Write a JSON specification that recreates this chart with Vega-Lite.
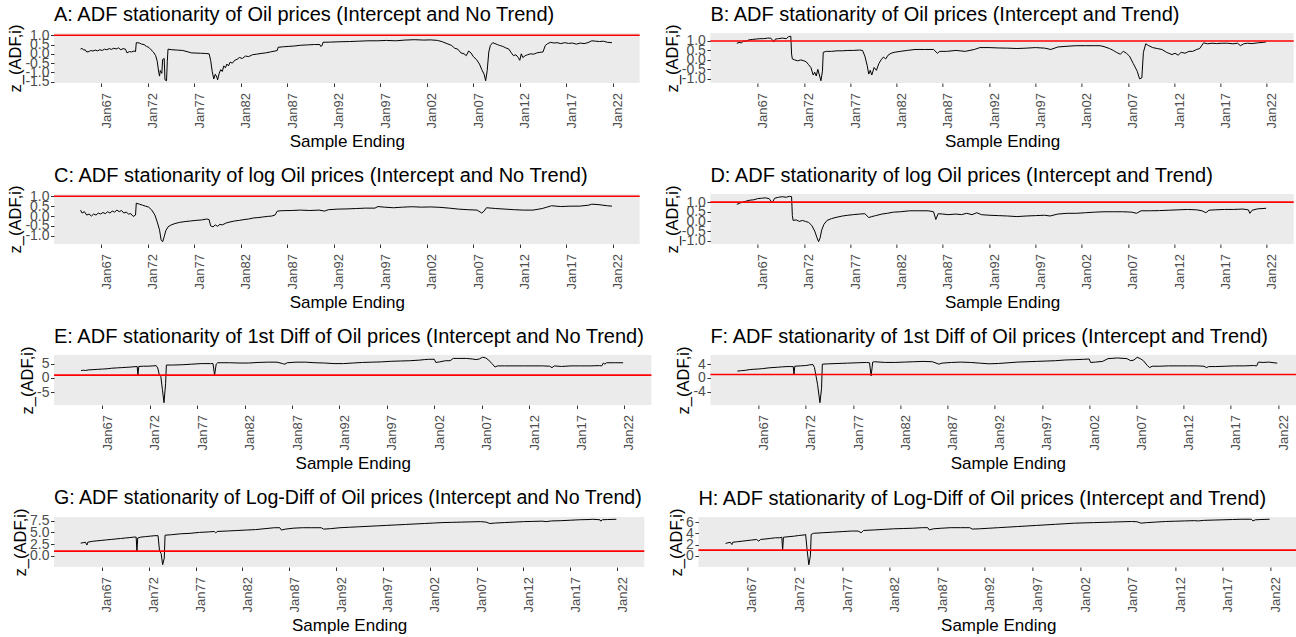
{
"$schema": "https://vega.github.io/schema/vega-lite/v6.json",
"padding": {"left": 7, "top": 5, "right": 0, "bottom": 0},
"config": {
 "font": "Liberation Sans",
 "view": {"fill": "#EBEBEB", "stroke": null},
 "axis": {"grid": false, "domain": false, "tickColor": "#333333", "tickSize": 3.5, "labelColor": "#4D4D4D", "labelFontSize": 14, "titleFontSize": 16.5, "titleFontWeight": "normal", "titleColor": "#000000", "labelPadding": 1.5, "titlePadding": 1, "labelOverlap": false, "labelFlush": false},
 "axisX": {"labelAngle": 270, "labelFontSize": 13, "labelPadding": 6, "labelOffset": 5, "titlePadding": 6, "titleFontSize": 17},
 "title": {"fontSize": 20, "fontWeight": "normal", "anchor": "start", "frame": "group", "color": "#000000", "offset": -1},
 "line": {"color": "#000000", "strokeWidth": 1}
},
"datasets": {
"A": [{"d":"1964-10","v":0.25},{"d":"1964-12","v":0.30},{"d":"1965-02","v":0.20},{"d":"1965-04","v":0.22},{"d":"1965-06","v":0.10},{"d":"1965-09","v":0.12},{"d":"1965-11","v":0.18},{"d":"1966-02","v":0.15},{"d":"1966-05","v":0.20},{"d":"1966-08","v":0.16},{"d":"1966-11","v":0.22},{"d":"1967-02","v":0.18},{"d":"1967-05","v":0.25},{"d":"1967-08","v":0.22},{"d":"1967-11","v":0.28},{"d":"1968-02","v":0.24},{"d":"1968-05","v":0.30},{"d":"1968-08","v":0.26},{"d":"1968-11","v":0.32},{"d":"1969-02","v":0.22},{"d":"1969-05","v":0.28},{"d":"1969-08","v":0.25},{"d":"1969-10","v":0.05},{"d":"1970-01","v":0.12},{"d":"1970-04","v":0.10},{"d":"1970-07","v":0.15},{"d":"1970-09","v":0.12},{"d":"1970-10","v":0.60},{"d":"1971-02","v":0.58},{"d":"1971-05","v":0.52},{"d":"1971-08","v":0.50},{"d":"1971-11","v":0.40},{"d":"1972-02","v":0.35},{"d":"1972-05","v":0.22},{"d":"1972-08","v":0.10},{"d":"1972-11","v":-0.10},{"d":"1973-01","v":-0.40},{"d":"1973-03","v":-1.00},{"d":"1973-04","v":-1.20},{"d":"1973-05","v":-0.90},{"d":"1973-07","v":-1.05},{"d":"1973-08","v":-0.30},{"d":"1973-10","v":-0.25},{"d":"1973-11","v":-1.40},{"d":"1974-01","v":-1.45},{"d":"1974-02","v":-0.40},{"d":"1974-03","v":0.25},{"d":"1974-08","v":0.22},{"d":"1975-03","v":0.20},{"d":"1975-10","v":0.18},{"d":"1976-05","v":0.10},{"d":"1976-09","v":0.05},{"d":"1977-03","v":0.04},{"d":"1977-09","v":0.03},{"d":"1978-03","v":0.02},{"d":"1978-08","v":0.0},{"d":"1978-10","v":-0.35},{"d":"1978-12","v":-0.95},{"d":"1979-02","v":-1.35},{"d":"1979-04","v":-1.10},{"d":"1979-06","v":-1.25},{"d":"1979-07","v":-1.40},{"d":"1979-09","v":-1.05},{"d":"1979-11","v":-0.85},{"d":"1980-01","v":-0.95},{"d":"1980-03","v":-0.65},{"d":"1980-05","v":-0.75},{"d":"1980-07","v":-0.55},{"d":"1980-09","v":-0.65},{"d":"1980-11","v":-0.45},{"d":"1981-02","v":-0.50},{"d":"1981-05","v":-0.35},{"d":"1981-08","v":-0.30},{"d":"1981-11","v":-0.20},{"d":"1982-03","v":-0.25},{"d":"1982-07","v":-0.12},{"d":"1982-11","v":-0.15},{"d":"1983-04","v":-0.05},{"d":"1983-09","v":-0.02},{"d":"1984-03","v":0.02},{"d":"1984-09","v":0.05},{"d":"1985-03","v":0.10},{"d":"1985-09","v":0.15},{"d":"1985-12","v":0.18},{"d":"1986-01","v":0.35},{"d":"1986-08","v":0.38},{"d":"1987-03","v":0.40},{"d":"1987-10","v":0.42},{"d":"1988-06","v":0.46},{"d":"1989-03","v":0.48},{"d":"1989-12","v":0.50},{"d":"1990-07","v":0.50},{"d":"1990-08","v":0.40},{"d":"1990-10","v":0.45},{"d":"1990-11","v":0.62},{"d":"1991-09","v":0.63},{"d":"1992-09","v":0.65},{"d":"1993-09","v":0.66},{"d":"1994-09","v":0.68},{"d":"1995-09","v":0.70},{"d":"1996-09","v":0.70},{"d":"1997-09","v":0.72},{"d":"1998-09","v":0.70},{"d":"1999-09","v":0.74},{"d":"2000-09","v":0.76},{"d":"2001-09","v":0.74},{"d":"2002-06","v":0.75},{"d":"2003-03","v":0.72},{"d":"2003-09","v":0.65},{"d":"2004-03","v":0.55},{"d":"2004-09","v":0.45},{"d":"2005-01","v":0.30},{"d":"2005-05","v":0.25},{"d":"2005-09","v":0.05},{"d":"2006-01","v":0.0},{"d":"2006-04","v":-0.10},{"d":"2006-07","v":0.15},{"d":"2006-10","v":0.05},{"d":"2007-01","v":-0.15},{"d":"2007-05","v":-0.30},{"d":"2007-09","v":-0.55},{"d":"2007-12","v":-0.85},{"d":"2008-03","v":-1.10},{"d":"2008-05","v":-1.45},{"d":"2008-07","v":-0.90},{"d":"2008-09","v":0.10},{"d":"2008-11","v":0.45},{"d":"2009-02","v":0.60},{"d":"2009-05","v":0.55},{"d":"2009-08","v":0.50},{"d":"2009-11","v":0.45},{"d":"2010-03","v":0.40},{"d":"2010-07","v":0.32},{"d":"2010-11","v":0.25},{"d":"2011-02","v":0.05},{"d":"2011-05","v":-0.10},{"d":"2011-08","v":-0.05},{"d":"2011-11","v":-0.20},{"d":"2012-01","v":-0.35},{"d":"2012-03","v":0.0},{"d":"2012-05","v":-0.20},{"d":"2012-08","v":-0.10},{"d":"2012-11","v":-0.05},{"d":"2013-03","v":0.0},{"d":"2013-07","v":-0.02},{"d":"2013-11","v":0.05},{"d":"2014-03","v":0.08},{"d":"2014-07","v":0.10},{"d":"2014-10","v":0.45},{"d":"2015-01","v":0.55},{"d":"2015-05","v":0.62},{"d":"2015-09","v":0.58},{"d":"2016-01","v":0.60},{"d":"2016-06","v":0.55},{"d":"2016-11","v":0.60},{"d":"2017-04","v":0.56},{"d":"2017-09","v":0.58},{"d":"2018-02","v":0.52},{"d":"2018-07","v":0.58},{"d":"2018-12","v":0.55},{"d":"2019-05","v":0.60},{"d":"2019-10","v":0.70},{"d":"2020-03","v":0.68},{"d":"2020-08","v":0.66},{"d":"2021-01","v":0.68},{"d":"2021-06","v":0.62},{"d":"2021-12","v":0.60}],
"B": [{"d":"1964-10","v":0.88},{"d":"1965-01","v":0.92},{"d":"1965-04","v":0.90},{"d":"1965-07","v":1.00},{"d":"1965-10","v":0.98},{"d":"1966-01","v":1.05},{"d":"1966-06","v":1.08},{"d":"1966-11","v":1.10},{"d":"1967-04","v":1.12},{"d":"1967-09","v":1.12},{"d":"1968-02","v":1.15},{"d":"1968-06","v":1.15},{"d":"1968-09","v":1.00},{"d":"1968-10","v":0.95},{"d":"1968-12","v":1.10},{"d":"1969-04","v":1.12},{"d":"1969-09","v":1.15},{"d":"1970-02","v":1.12},{"d":"1970-05","v":1.22},{"d":"1970-08","v":1.25},{"d":"1970-09","v":0.30},{"d":"1970-10","v":0.05},{"d":"1971-01","v":0.0},{"d":"1971-05","v":-0.05},{"d":"1971-09","v":0.0},{"d":"1972-01","v":-0.05},{"d":"1972-04","v":-0.10},{"d":"1972-07","v":-0.25},{"d":"1972-10","v":-0.40},{"d":"1973-01","v":-0.80},{"d":"1973-03","v":-0.65},{"d":"1973-05","v":-0.85},{"d":"1973-07","v":-0.50},{"d":"1973-09","v":-0.80},{"d":"1973-11","v":-1.10},{"d":"1974-01","v":-0.60},{"d":"1974-02","v":0.40},{"d":"1974-06","v":0.45},{"d":"1975-01","v":0.45},{"d":"1975-08","v":0.48},{"d":"1976-03","v":0.48},{"d":"1976-10","v":0.50},{"d":"1977-05","v":0.50},{"d":"1978-01","v":0.52},{"d":"1978-05","v":0.50},{"d":"1978-08","v":0.20},{"d":"1978-11","v":-0.30},{"d":"1979-01","v":-0.75},{"d":"1979-03","v":-0.55},{"d":"1979-05","v":-0.80},{"d":"1979-08","v":-0.40},{"d":"1979-11","v":-0.55},{"d":"1980-02","v":-0.20},{"d":"1980-05","v":0.0},{"d":"1980-08","v":0.15},{"d":"1980-11","v":0.05},{"d":"1981-02","v":0.25},{"d":"1981-06","v":0.35},{"d":"1981-10","v":0.40},{"d":"1982-06","v":0.45},{"d":"1983-03","v":0.50},{"d":"1984-01","v":0.55},{"d":"1985-01","v":0.55},{"d":"1986-01","v":0.55},{"d":"1986-06","v":0.35},{"d":"1986-09","v":0.45},{"d":"1987-06","v":0.45},{"d":"1988-06","v":0.50},{"d":"1989-06","v":0.45},{"d":"1990-06","v":0.55},{"d":"1991-01","v":0.65},{"d":"1992-01","v":0.65},{"d":"1993-01","v":0.63},{"d":"1994-01","v":0.62},{"d":"1995-01","v":0.60},{"d":"1996-01","v":0.62},{"d":"1997-01","v":0.65},{"d":"1998-01","v":0.62},{"d":"1998-09","v":0.55},{"d":"1999-06","v":0.68},{"d":"2000-06","v":0.72},{"d":"2001-06","v":0.75},{"d":"2002-06","v":0.75},{"d":"2003-06","v":0.75},{"d":"2004-01","v":0.75},{"d":"2004-06","v":0.70},{"d":"2005-01","v":0.60},{"d":"2005-06","v":0.50},{"d":"2005-10","v":0.40},{"d":"2006-03","v":0.30},{"d":"2006-07","v":0.45},{"d":"2006-11","v":0.35},{"d":"2007-03","v":0.20},{"d":"2007-08","v":-0.20},{"d":"2008-01","v":-0.60},{"d":"2008-04","v":-1.00},{"d":"2008-07","v":-0.95},{"d":"2008-09","v":0.40},{"d":"2008-12","v":0.85},{"d":"2009-04","v":0.75},{"d":"2009-09","v":0.65},{"d":"2010-03","v":0.60},{"d":"2010-09","v":0.55},{"d":"2011-03","v":0.40},{"d":"2011-06","v":0.35},{"d":"2011-10","v":0.28},{"d":"2012-02","v":0.35},{"d":"2012-06","v":0.25},{"d":"2012-10","v":0.40},{"d":"2013-03","v":0.35},{"d":"2013-08","v":0.45},{"d":"2014-01","v":0.45},{"d":"2014-06","v":0.55},{"d":"2014-10","v":0.60},{"d":"2015-03","v":0.90},{"d":"2015-08","v":0.85},{"d":"2016-02","v":0.88},{"d":"2016-08","v":0.86},{"d":"2017-03","v":0.88},{"d":"2017-10","v":0.88},{"d":"2018-05","v":0.85},{"d":"2018-11","v":0.88},{"d":"2019-03","v":0.75},{"d":"2019-07","v":0.85},{"d":"2019-12","v":0.88},{"d":"2020-06","v":0.86},{"d":"2021-01","v":0.90},{"d":"2021-07","v":0.92},{"d":"2021-12","v":0.95}],
"C": [{"d":"1964-10","v":0.30},{"d":"1964-12","v":0.15},{"d":"1965-03","v":0.22},{"d":"1965-06","v":0.05},{"d":"1965-09","v":0.10},{"d":"1965-12","v":0.0},{"d":"1966-03","v":0.10},{"d":"1966-06","v":0.05},{"d":"1966-09","v":0.15},{"d":"1966-12","v":0.10},{"d":"1967-03","v":0.18},{"d":"1967-06","v":0.12},{"d":"1967-09","v":0.22},{"d":"1967-12","v":0.15},{"d":"1968-03","v":0.25},{"d":"1968-06","v":0.20},{"d":"1968-09","v":0.30},{"d":"1968-12","v":0.22},{"d":"1969-03","v":0.28},{"d":"1969-06","v":0.15},{"d":"1969-09","v":0.20},{"d":"1969-12","v":0.10},{"d":"1970-03","v":0.12},{"d":"1970-06","v":-0.02},{"d":"1970-09","v":0.05},{"d":"1970-10","v":0.65},{"d":"1971-02","v":0.60},{"d":"1971-06","v":0.55},{"d":"1971-10","v":0.50},{"d":"1972-02","v":0.45},{"d":"1972-06","v":0.30},{"d":"1972-10","v":0.05},{"d":"1973-01","v":-0.30},{"d":"1973-04","v":-0.70},{"d":"1973-06","v":-1.20},{"d":"1973-08","v":-1.30},{"d":"1973-10","v":-1.05},{"d":"1973-12","v":-0.75},{"d":"1974-03","v":-0.55},{"d":"1974-07","v":-0.45},{"d":"1974-12","v":-0.38},{"d":"1975-06","v":-0.32},{"d":"1976-01","v":-0.28},{"d":"1976-08","v":-0.25},{"d":"1977-03","v":-0.22},{"d":"1977-10","v":-0.20},{"d":"1978-05","v":-0.15},{"d":"1978-08","v":-0.18},{"d":"1978-10","v":-0.50},{"d":"1979-01","v":-0.55},{"d":"1979-04","v":-0.45},{"d":"1979-07","v":-0.52},{"d":"1979-10","v":-0.42},{"d":"1980-01","v":-0.45},{"d":"1980-06","v":-0.35},{"d":"1980-11","v":-0.30},{"d":"1981-05","v":-0.25},{"d":"1981-11","v":-0.22},{"d":"1982-05","v":-0.18},{"d":"1982-11","v":-0.15},{"d":"1983-05","v":-0.10},{"d":"1983-11","v":-0.08},{"d":"1984-05","v":-0.05},{"d":"1984-11","v":-0.02},{"d":"1985-05","v":0.0},{"d":"1985-09","v":0.05},{"d":"1985-12","v":0.25},{"d":"1986-06","v":0.27},{"d":"1987-06","v":0.28},{"d":"1988-06","v":0.30},{"d":"1989-06","v":0.28},{"d":"1990-06","v":0.30},{"d":"1991-01","v":0.25},{"d":"1991-06","v":0.32},{"d":"1992-06","v":0.35},{"d":"1993-06","v":0.36},{"d":"1994-06","v":0.38},{"d":"1995-06","v":0.40},{"d":"1996-06","v":0.40},{"d":"1996-10","v":0.48},{"d":"1997-06","v":0.45},{"d":"1998-06","v":0.42},{"d":"1999-06","v":0.45},{"d":"2000-06","v":0.47},{"d":"2001-06","v":0.45},{"d":"2002-06","v":0.46},{"d":"2003-06","v":0.44},{"d":"2004-06","v":0.40},{"d":"2005-06","v":0.35},{"d":"2006-06","v":0.32},{"d":"2007-06","v":0.30},{"d":"2007-12","v":0.15},{"d":"2008-03","v":0.25},{"d":"2008-06","v":0.42},{"d":"2008-12","v":0.40},{"d":"2009-06","v":0.38},{"d":"2010-06","v":0.35},{"d":"2011-06","v":0.32},{"d":"2012-06","v":0.30},{"d":"2013-06","v":0.30},{"d":"2014-06","v":0.38},{"d":"2014-12","v":0.45},{"d":"2015-06","v":0.52},{"d":"2016-06","v":0.48},{"d":"2017-06","v":0.50},{"d":"2018-06","v":0.50},{"d":"2019-06","v":0.55},{"d":"2019-10","v":0.60},{"d":"2020-06","v":0.58},{"d":"2021-06","v":0.52},{"d":"2021-12","v":0.50}],
"D": [{"d":"1964-10","v":0.88},{"d":"1965-02","v":0.95},{"d":"1965-06","v":1.00},{"d":"1965-10","v":1.05},{"d":"1966-03","v":1.10},{"d":"1966-08","v":1.12},{"d":"1967-01","v":1.18},{"d":"1967-06","v":1.20},{"d":"1967-11","v":1.22},{"d":"1968-04","v":1.18},{"d":"1968-07","v":1.00},{"d":"1968-09","v":1.05},{"d":"1968-11","v":1.20},{"d":"1969-04","v":1.25},{"d":"1969-09","v":1.28},{"d":"1970-02","v":1.25},{"d":"1970-06","v":1.30},{"d":"1970-09","v":1.28},{"d":"1970-10","v":0.30},{"d":"1970-11","v":0.05},{"d":"1971-03","v":0.08},{"d":"1971-07","v":0.0},{"d":"1971-11","v":0.05},{"d":"1972-03","v":0.0},{"d":"1972-07","v":-0.05},{"d":"1972-11","v":-0.20},{"d":"1973-03","v":-0.50},{"d":"1973-06","v":-0.85},{"d":"1973-08","v":-1.05},{"d":"1973-10","v":-0.85},{"d":"1973-12","v":-0.45},{"d":"1974-03","v":-0.15},{"d":"1974-07","v":0.05},{"d":"1975-01","v":0.15},{"d":"1975-08","v":0.22},{"d":"1976-03","v":0.28},{"d":"1976-10","v":0.32},{"d":"1977-05","v":0.35},{"d":"1978-01","v":0.38},{"d":"1978-08","v":0.40},{"d":"1979-01","v":0.20},{"d":"1979-05","v":0.25},{"d":"1979-10","v":0.30},{"d":"1980-06","v":0.38},{"d":"1981-01","v":0.42},{"d":"1981-09","v":0.48},{"d":"1982-06","v":0.50},{"d":"1983-06","v":0.55},{"d":"1984-06","v":0.55},{"d":"1985-06","v":0.55},{"d":"1986-01","v":0.50},{"d":"1986-04","v":0.10},{"d":"1986-07","v":0.40},{"d":"1987-01","v":0.38},{"d":"1987-08","v":0.35},{"d":"1988-06","v":0.38},{"d":"1989-01","v":0.35},{"d":"1989-08","v":0.42},{"d":"1990-03","v":0.35},{"d":"1990-09","v":0.45},{"d":"1991-03","v":0.35},{"d":"1992-01","v":0.32},{"d":"1993-01","v":0.30},{"d":"1994-01","v":0.28},{"d":"1995-01","v":0.25},{"d":"1996-01","v":0.28},{"d":"1997-01","v":0.30},{"d":"1998-01","v":0.32},{"d":"1998-08","v":0.28},{"d":"1999-06","v":0.38},{"d":"2000-06","v":0.42},{"d":"2001-06","v":0.42},{"d":"2002-06","v":0.45},{"d":"2003-06","v":0.48},{"d":"2004-06","v":0.50},{"d":"2005-06","v":0.50},{"d":"2006-06","v":0.50},{"d":"2007-06","v":0.48},{"d":"2007-12","v":0.42},{"d":"2008-06","v":0.55},{"d":"2009-06","v":0.55},{"d":"2010-06","v":0.56},{"d":"2011-06","v":0.58},{"d":"2012-06","v":0.60},{"d":"2013-06","v":0.62},{"d":"2014-06","v":0.60},{"d":"2015-01","v":0.55},{"d":"2015-06","v":0.45},{"d":"2015-10","v":0.58},{"d":"2016-06","v":0.60},{"d":"2017-06","v":0.62},{"d":"2018-06","v":0.62},{"d":"2019-06","v":0.64},{"d":"2020-01","v":0.60},{"d":"2020-03","v":0.42},{"d":"2020-06","v":0.58},{"d":"2021-01","v":0.65},{"d":"2021-12","v":0.68}],
"E": [{"d":"1964-10","v":2.6},{"d":"1965-01","v":2.7},{"d":"1965-04","v":2.6},{"d":"1965-07","v":2.8},{"d":"1966-01","v":2.9},{"d":"1966-07","v":3.0},{"d":"1967-01","v":3.1},{"d":"1967-07","v":3.2},{"d":"1968-01","v":3.4},{"d":"1968-07","v":3.5},{"d":"1969-01","v":3.6},{"d":"1969-07","v":3.7},{"d":"1970-01","v":3.8},{"d":"1970-05","v":3.9},{"d":"1970-09","v":4.0},{"d":"1970-10","v":1.0},{"d":"1970-11","v":4.0},{"d":"1971-05","v":4.1},{"d":"1971-11","v":4.1},{"d":"1972-05","v":4.2},{"d":"1972-09","v":4.3},{"d":"1972-11","v":3.5},{"d":"1973-01","v":1.2},{"d":"1973-03","v":0.5},{"d":"1973-05","v":-4.0},{"d":"1973-07","v":-8.6},{"d":"1973-09","v":-2.0},{"d":"1973-10","v":4.5},{"d":"1974-06","v":4.5},{"d":"1975-06","v":4.6},{"d":"1976-06","v":4.8},{"d":"1977-06","v":5.0},{"d":"1978-06","v":5.0},{"d":"1978-09","v":5.0},{"d":"1978-11","v":1.0},{"d":"1979-01","v":4.8},{"d":"1979-03","v":5.3},{"d":"1980-06","v":5.3},{"d":"1981-06","v":5.2},{"d":"1982-06","v":5.2},{"d":"1983-06","v":5.4},{"d":"1984-06","v":5.5},{"d":"1985-06","v":5.5},{"d":"1986-01","v":5.0},{"d":"1986-04","v":4.8},{"d":"1986-07","v":5.3},{"d":"1987-06","v":5.5},{"d":"1988-06","v":5.5},{"d":"1989-06","v":5.3},{"d":"1990-06","v":5.2},{"d":"1991-06","v":5.0},{"d":"1992-06","v":5.0},{"d":"1993-06","v":5.2},{"d":"1994-06","v":5.4},{"d":"1995-06","v":5.5},{"d":"1996-06","v":5.6},{"d":"1997-06","v":5.8},{"d":"1998-06","v":5.9},{"d":"1999-06","v":6.0},{"d":"2000-06","v":6.2},{"d":"2001-01","v":6.4},{"d":"2001-06","v":6.5},{"d":"2002-01","v":6.5},{"d":"2002-03","v":5.4},{"d":"2002-08","v":5.6},{"d":"2003-03","v":6.0},{"d":"2003-09","v":6.0},{"d":"2004-01","v":6.8},{"d":"2004-06","v":6.8},{"d":"2005-06","v":6.8},{"d":"2006-01","v":6.6},{"d":"2006-06","v":6.4},{"d":"2006-10","v":6.6},{"d":"2007-02","v":7.2},{"d":"2007-06","v":7.0},{"d":"2007-10","v":6.2},{"d":"2008-02","v":5.0},{"d":"2008-06","v":3.8},{"d":"2008-09","v":4.2},{"d":"2009-06","v":4.2},{"d":"2010-06","v":4.2},{"d":"2011-06","v":4.2},{"d":"2012-06","v":4.2},{"d":"2013-06","v":4.2},{"d":"2014-03","v":4.1},{"d":"2014-06","v":3.6},{"d":"2014-09","v":4.2},{"d":"2015-06","v":4.0},{"d":"2016-06","v":4.2},{"d":"2017-06","v":4.2},{"d":"2018-06","v":4.2},{"d":"2019-06","v":4.3},{"d":"2019-09","v":4.2},{"d":"2019-11","v":5.2},{"d":"2020-01","v":4.8},{"d":"2020-03","v":5.3},{"d":"2021-01","v":5.3},{"d":"2021-12","v":5.3}],
"F": [{"d":"1964-10","v":2.0},{"d":"1965-03","v":2.1},{"d":"1965-08","v":2.2},{"d":"1966-01","v":2.4},{"d":"1966-06","v":2.5},{"d":"1967-01","v":2.6},{"d":"1967-06","v":2.7},{"d":"1968-01","v":2.9},{"d":"1968-06","v":3.0},{"d":"1969-01","v":3.1},{"d":"1969-06","v":3.2},{"d":"1970-01","v":3.3},{"d":"1970-06","v":3.3},{"d":"1970-09","v":3.3},{"d":"1970-10","v":1.0},{"d":"1970-11","v":3.4},{"d":"1971-06","v":3.5},{"d":"1972-01","v":3.6},{"d":"1972-06","v":3.8},{"d":"1972-10","v":3.9},{"d":"1972-12","v":3.0},{"d":"1973-02","v":0.5},{"d":"1973-04","v":-2.0},{"d":"1973-07","v":-7.2},{"d":"1973-09","v":-3.0},{"d":"1973-10","v":4.0},{"d":"1974-06","v":4.1},{"d":"1975-06","v":4.2},{"d":"1976-06","v":4.3},{"d":"1977-06","v":4.4},{"d":"1978-06","v":4.5},{"d":"1978-10","v":4.4},{"d":"1978-12","v":0.6},{"d":"1979-02","v":4.6},{"d":"1979-04","v":4.7},{"d":"1980-06","v":4.5},{"d":"1981-06","v":4.5},{"d":"1982-06","v":4.6},{"d":"1983-06","v":4.7},{"d":"1984-06","v":4.8},{"d":"1985-06","v":4.7},{"d":"1986-02","v":4.0},{"d":"1986-06","v":4.3},{"d":"1987-06","v":4.5},{"d":"1988-06","v":4.6},{"d":"1989-06","v":4.5},{"d":"1990-06","v":4.3},{"d":"1991-06","v":4.1},{"d":"1992-06","v":4.2},{"d":"1993-06","v":4.4},{"d":"1994-06","v":4.6},{"d":"1995-06","v":4.7},{"d":"1996-06","v":4.8},{"d":"1997-06","v":4.9},{"d":"1998-06","v":5.0},{"d":"1999-06","v":5.2},{"d":"2000-06","v":5.3},{"d":"2001-06","v":5.4},{"d":"2002-01","v":5.5},{"d":"2002-03","v":4.5},{"d":"2002-09","v":4.6},{"d":"2003-06","v":4.8},{"d":"2004-01","v":5.6},{"d":"2005-01","v":5.8},{"d":"2006-01","v":5.6},{"d":"2006-06","v":5.0},{"d":"2006-10","v":5.2},{"d":"2007-02","v":6.0},{"d":"2007-06","v":5.6},{"d":"2007-10","v":5.0},{"d":"2008-03","v":3.6},{"d":"2008-06","v":3.0},{"d":"2008-09","v":3.4},{"d":"2009-06","v":3.4},{"d":"2010-06","v":3.5},{"d":"2011-06","v":3.5},{"d":"2012-06","v":3.5},{"d":"2013-06","v":3.5},{"d":"2014-03","v":3.4},{"d":"2014-06","v":3.0},{"d":"2014-09","v":3.3},{"d":"2015-06","v":3.3},{"d":"2016-06","v":3.4},{"d":"2017-06","v":3.5},{"d":"2018-06","v":3.5},{"d":"2019-06","v":3.6},{"d":"2019-10","v":3.5},{"d":"2019-12","v":4.6},{"d":"2020-06","v":4.5},{"d":"2021-01","v":4.6},{"d":"2021-12","v":4.3}],
"G": [{"d":"1964-10","v":2.7},{"d":"1965-01","v":2.8},{"d":"1965-04","v":2.9},{"d":"1965-06","v":2.3},{"d":"1965-07","v":2.9},{"d":"1966-01","v":3.1},{"d":"1966-07","v":3.2},{"d":"1967-01","v":3.3},{"d":"1967-07","v":3.4},{"d":"1968-01","v":3.5},{"d":"1968-07","v":3.6},{"d":"1969-01","v":3.7},{"d":"1969-07","v":3.8},{"d":"1970-01","v":3.9},{"d":"1970-06","v":4.0},{"d":"1970-09","v":4.0},{"d":"1970-10","v":1.0},{"d":"1970-11","v":3.8},{"d":"1971-03","v":4.0},{"d":"1971-09","v":4.1},{"d":"1972-03","v":4.2},{"d":"1972-09","v":4.3},{"d":"1973-01","v":4.3},{"d":"1973-03","v":1.0},{"d":"1973-05","v":0.5},{"d":"1973-07","v":-1.9},{"d":"1973-09","v":-0.5},{"d":"1973-10","v":4.4},{"d":"1974-06","v":4.5},{"d":"1975-06","v":4.7},{"d":"1976-06","v":4.8},{"d":"1977-06","v":5.0},{"d":"1978-06","v":5.1},{"d":"1979-01","v":5.2},{"d":"1979-03","v":4.9},{"d":"1979-05","v":5.2},{"d":"1980-06","v":5.3},{"d":"1981-06","v":5.4},{"d":"1982-06","v":5.5},{"d":"1983-06","v":5.6},{"d":"1984-06","v":5.8},{"d":"1985-06","v":6.0},{"d":"1986-01","v":6.0},{"d":"1986-03","v":5.5},{"d":"1986-08","v":5.7},{"d":"1987-06","v":5.9},{"d":"1988-06","v":6.0},{"d":"1989-06","v":6.0},{"d":"1990-06","v":6.0},{"d":"1990-09","v":5.7},{"d":"1991-06","v":5.8},{"d":"1992-06","v":6.0},{"d":"1993-06","v":6.1},{"d":"1994-06","v":6.2},{"d":"1995-06","v":6.3},{"d":"1996-06","v":6.4},{"d":"1997-06","v":6.5},{"d":"1998-06","v":6.6},{"d":"1999-06","v":6.7},{"d":"2000-06","v":6.8},{"d":"2001-06","v":6.9},{"d":"2002-06","v":7.0},{"d":"2003-06","v":7.1},{"d":"2004-06","v":7.15},{"d":"2005-06","v":7.2},{"d":"2006-06","v":7.25},{"d":"2007-06","v":7.3},{"d":"2008-01","v":7.2},{"d":"2008-06","v":6.9},{"d":"2009-01","v":7.0},{"d":"2010-01","v":7.1},{"d":"2011-01","v":7.2},{"d":"2012-01","v":7.3},{"d":"2013-01","v":7.35},{"d":"2014-01","v":7.4},{"d":"2014-06","v":7.3},{"d":"2015-01","v":7.45},{"d":"2016-01","v":7.5},{"d":"2017-01","v":7.6},{"d":"2018-01","v":7.7},{"d":"2019-01","v":7.75},{"d":"2019-06","v":7.8},{"d":"2020-03","v":7.7},{"d":"2020-04","v":7.4},{"d":"2020-06","v":7.7},{"d":"2021-01","v":7.75},{"d":"2021-12","v":7.8}],
"H": [{"d":"1964-10","v":2.2},{"d":"1965-01","v":2.3},{"d":"1965-04","v":2.4},{"d":"1965-06","v":2.0},{"d":"1965-07","v":2.4},{"d":"1966-01","v":2.5},{"d":"1966-07","v":2.6},{"d":"1967-01","v":2.7},{"d":"1967-07","v":2.8},{"d":"1968-01","v":2.9},{"d":"1968-04","v":2.6},{"d":"1968-06","v":2.9},{"d":"1969-01","v":3.0},{"d":"1969-07","v":3.1},{"d":"1970-01","v":3.2},{"d":"1970-06","v":3.2},{"d":"1970-09","v":3.3},{"d":"1970-10","v":0.9},{"d":"1970-11","v":3.3},{"d":"1971-06","v":3.4},{"d":"1972-01","v":3.5},{"d":"1972-06","v":3.6},{"d":"1973-01","v":3.7},{"d":"1973-03","v":3.8},{"d":"1973-05","v":0.9},{"d":"1973-07","v":-1.6},{"d":"1973-09","v":0.0},{"d":"1973-10","v":3.8},{"d":"1974-01","v":4.0},{"d":"1975-01","v":4.1},{"d":"1976-01","v":4.2},{"d":"1977-01","v":4.3},{"d":"1978-01","v":4.4},{"d":"1978-09","v":4.4},{"d":"1979-01","v":4.1},{"d":"1979-04","v":4.5},{"d":"1980-06","v":4.6},{"d":"1981-06","v":4.7},{"d":"1982-06","v":4.8},{"d":"1983-06","v":4.85},{"d":"1984-06","v":4.9},{"d":"1985-06","v":5.0},{"d":"1986-01","v":5.0},{"d":"1986-03","v":4.6},{"d":"1986-08","v":4.8},{"d":"1987-06","v":4.9},{"d":"1988-06","v":5.0},{"d":"1989-06","v":5.0},{"d":"1990-06","v":5.0},{"d":"1990-09","v":4.75},{"d":"1991-06","v":4.8},{"d":"1992-06","v":4.9},{"d":"1993-06","v":5.0},{"d":"1994-06","v":5.1},{"d":"1995-06","v":5.2},{"d":"1996-06","v":5.3},{"d":"1997-06","v":5.4},{"d":"1998-06","v":5.5},{"d":"1999-06","v":5.6},{"d":"2000-06","v":5.7},{"d":"2001-06","v":5.8},{"d":"2002-06","v":5.85},{"d":"2003-06","v":5.9},{"d":"2004-06","v":5.95},{"d":"2005-06","v":6.0},{"d":"2006-06","v":6.05},{"d":"2007-06","v":6.1},{"d":"2008-01","v":6.05},{"d":"2008-06","v":5.8},{"d":"2009-01","v":5.9},{"d":"2010-01","v":6.0},{"d":"2011-01","v":6.1},{"d":"2012-01","v":6.15},{"d":"2013-01","v":6.2},{"d":"2014-01","v":6.25},{"d":"2014-06","v":6.2},{"d":"2015-01","v":6.3},{"d":"2016-01","v":6.35},{"d":"2017-01","v":6.4},{"d":"2018-01","v":6.45},{"d":"2019-01","v":6.5},{"d":"2020-01","v":6.5},{"d":"2020-03","v":6.2},{"d":"2020-06","v":6.4},{"d":"2021-01","v":6.45},{"d":"2021-12","v":6.5}]
},
"vconcat": [
 {"hconcat": [
  {"title": "A: ADF stationarity of Oil prices (Intercept and No Trend)", "width": 585.7, "height": 50, "data": {"name": "A"},
   "layer": [
    {"mark": "line", "encoding": {
      "x": {"field": "d", "type": "temporal", "scale": {"type": "utc", "domain": [{"year":1961,"month":11,"date":24,"utc":true},{"year":2024,"month":11,"date":25,"utc":true}]}, "axis": {"format": "%b%y", "title": "Sample Ending", "values": [{"year":1967,"month":1,"date":1,"utc":true},{"year":1972,"month":1,"date":1,"utc":true},{"year":1977,"month":1,"date":1,"utc":true},{"year":1982,"month":1,"date":1,"utc":true},{"year":1987,"month":1,"date":1,"utc":true},{"year":1992,"month":1,"date":1,"utc":true},{"year":1997,"month":1,"date":1,"utc":true},{"year":2002,"month":1,"date":1,"utc":true},{"year":2007,"month":1,"date":1,"utc":true},{"year":2012,"month":1,"date":1,"utc":true},{"year":2017,"month":1,"date":1,"utc":true},{"year":2022,"month":1,"date":1,"utc":true}]}},
      "y": {"field": "v", "type": "quantitative", "scale": {"domain": [-1.57, 1.12], "nice": false, "zero": false}, "axis": {"title": "z_(ADF,i)", "values": [1, 0.5, 0, -0.5, -1, -1.5], "labelExpr": "replace(format(datum.value, '.1f'), '\u2212', '-')"}}}},
    {"data": {"values": [{}]}, "mark": {"type": "rule", "color": "#FF0000", "strokeWidth": 1.6}, "encoding": {"y": {"datum": 1, "type": "quantitative", "axis": {"title": "z_(ADF,i)", "values": [1, 0.5, 0, -0.5, -1, -1.5], "labelExpr": "replace(format(datum.value, '.1f'), '\u2212', '-')"}}}}
   ]},
  {"title": "B: ADF stationarity of Oil prices (Intercept and Trend)", "width": 583.3, "height": 50, "data": {"name": "B"},
   "layer": [
    {"mark": "line", "encoding": {
      "x": {"field": "d", "type": "temporal", "scale": {"type": "utc", "domain": [{"year":1961,"month":11,"date":24,"utc":true},{"year":2024,"month":11,"date":25,"utc":true}]}, "axis": {"format": "%b%y", "title": "Sample Ending", "values": [{"year":1967,"month":1,"date":1,"utc":true},{"year":1972,"month":1,"date":1,"utc":true},{"year":1977,"month":1,"date":1,"utc":true},{"year":1982,"month":1,"date":1,"utc":true},{"year":1987,"month":1,"date":1,"utc":true},{"year":1992,"month":1,"date":1,"utc":true},{"year":1997,"month":1,"date":1,"utc":true},{"year":2002,"month":1,"date":1,"utc":true},{"year":2007,"month":1,"date":1,"utc":true},{"year":2012,"month":1,"date":1,"utc":true},{"year":2017,"month":1,"date":1,"utc":true},{"year":2022,"month":1,"date":1,"utc":true}]}},
      "y": {"field": "v", "type": "quantitative", "scale": {"domain": [-1.22, 1.42], "nice": false, "zero": false}, "axis": {"title": "z_(ADF,i)", "values": [1, 0.5, 0, -0.5, -1], "labelExpr": "replace(format(datum.value, '.1f'), '\u2212', '-')"}}}},
    {"data": {"values": [{}]}, "mark": {"type": "rule", "color": "#FF0000", "strokeWidth": 1.6}, "encoding": {"y": {"datum": 1, "type": "quantitative", "axis": {"title": "z_(ADF,i)", "values": [1, 0.5, 0, -0.5, -1], "labelExpr": "replace(format(datum.value, '.1f'), '\u2212', '-')"}}}}
   ]}
 ], "spacing": 22.4},
 {"hconcat": [
  {"title": "C: ADF stationarity of log Oil prices (Intercept and No Trend)", "width": 585.7, "height": 50, "data": {"name": "C"},
   "layer": [
    {"mark": "line", "encoding": {
      "x": {"field": "d", "type": "temporal", "scale": {"type": "utc", "domain": [{"year":1961,"month":11,"date":24,"utc":true},{"year":2024,"month":11,"date":25,"utc":true}]}, "axis": {"format": "%b%y", "title": "Sample Ending", "values": [{"year":1967,"month":1,"date":1,"utc":true},{"year":1972,"month":1,"date":1,"utc":true},{"year":1977,"month":1,"date":1,"utc":true},{"year":1982,"month":1,"date":1,"utc":true},{"year":1987,"month":1,"date":1,"utc":true},{"year":1992,"month":1,"date":1,"utc":true},{"year":1997,"month":1,"date":1,"utc":true},{"year":2002,"month":1,"date":1,"utc":true},{"year":2007,"month":1,"date":1,"utc":true},{"year":2012,"month":1,"date":1,"utc":true},{"year":2017,"month":1,"date":1,"utc":true},{"year":2022,"month":1,"date":1,"utc":true}]}},
      "y": {"field": "v", "type": "quantitative", "scale": {"domain": [-1.415, 1.115], "nice": false, "zero": false}, "axis": {"title": "z_(ADF,i)", "values": [1, 0.5, 0, -0.5, -1], "labelExpr": "replace(format(datum.value, '.1f'), '\u2212', '-')"}}}},
    {"data": {"values": [{}]}, "mark": {"type": "rule", "color": "#FF0000", "strokeWidth": 1.6}, "encoding": {"y": {"datum": 1, "type": "quantitative", "axis": {"title": "z_(ADF,i)", "values": [1, 0.5, 0, -0.5, -1], "labelExpr": "replace(format(datum.value, '.1f'), '\u2212', '-')"}}}}
   ]},
  {"title": "D: ADF stationarity of log Oil prices (Intercept and Trend)", "width": 583.3, "height": 50, "data": {"name": "D"},
   "layer": [
    {"mark": "line", "encoding": {
      "x": {"field": "d", "type": "temporal", "scale": {"type": "utc", "domain": [{"year":1961,"month":11,"date":24,"utc":true},{"year":2024,"month":11,"date":25,"utc":true}]}, "axis": {"format": "%b%y", "title": "Sample Ending", "values": [{"year":1967,"month":1,"date":1,"utc":true},{"year":1972,"month":1,"date":1,"utc":true},{"year":1977,"month":1,"date":1,"utc":true},{"year":1982,"month":1,"date":1,"utc":true},{"year":1987,"month":1,"date":1,"utc":true},{"year":1992,"month":1,"date":1,"utc":true},{"year":1997,"month":1,"date":1,"utc":true},{"year":2002,"month":1,"date":1,"utc":true},{"year":2007,"month":1,"date":1,"utc":true},{"year":2012,"month":1,"date":1,"utc":true},{"year":2017,"month":1,"date":1,"utc":true},{"year":2022,"month":1,"date":1,"utc":true}]}},
      "y": {"field": "v", "type": "quantitative", "scale": {"domain": [-1.17, 1.42], "nice": false, "zero": false}, "axis": {"title": "z_(ADF,i)", "values": [1, 0.5, 0, -0.5, -1], "labelExpr": "replace(format(datum.value, '.1f'), '\u2212', '-')"}}}},
    {"data": {"values": [{}]}, "mark": {"type": "rule", "color": "#FF0000", "strokeWidth": 1.6}, "encoding": {"y": {"datum": 1, "type": "quantitative", "axis": {"title": "z_(ADF,i)", "values": [1, 0.5, 0, -0.5, -1], "labelExpr": "replace(format(datum.value, '.1f'), '\u2212', '-')"}}}}
   ]}
 ], "spacing": 22.4},
 {"hconcat": [
  {"title": "E: ADF stationarity of 1st Diff of Oil prices (Intercept and No Trend)", "width": 597.4, "height": 50, "data": {"name": "E"},
   "layer": [
    {"mark": "line", "encoding": {
      "x": {"field": "d", "type": "temporal", "scale": {"type": "utc", "domain": [{"year":1961,"month":11,"date":24,"utc":true},{"year":2024,"month":11,"date":25,"utc":true}]}, "axis": {"format": "%b%y", "title": "Sample Ending", "values": [{"year":1967,"month":1,"date":1,"utc":true},{"year":1972,"month":1,"date":1,"utc":true},{"year":1977,"month":1,"date":1,"utc":true},{"year":1982,"month":1,"date":1,"utc":true},{"year":1987,"month":1,"date":1,"utc":true},{"year":1992,"month":1,"date":1,"utc":true},{"year":1997,"month":1,"date":1,"utc":true},{"year":2002,"month":1,"date":1,"utc":true},{"year":2007,"month":1,"date":1,"utc":true},{"year":2012,"month":1,"date":1,"utc":true},{"year":2017,"month":1,"date":1,"utc":true},{"year":2022,"month":1,"date":1,"utc":true}]}},
      "y": {"field": "v", "type": "quantitative", "scale": {"domain": [-9.39, 7.99], "nice": false, "zero": false}, "axis": {"title": "z_(ADF,i)", "values": [5, 0, -5], "labelExpr": "replace(format(datum.value, 'd'), '\u2212', '-')"}}}},
    {"data": {"values": [{}]}, "mark": {"type": "rule", "color": "#FF0000", "strokeWidth": 1.6}, "encoding": {"y": {"datum": 1, "type": "quantitative", "axis": {"title": "z_(ADF,i)", "values": [5, 0, -5], "labelExpr": "replace(format(datum.value, 'd'), '\u2212', '-')"}}}}
   ]},
  {"title": "F: ADF stationarity of 1st Diff of Oil prices (Intercept and Trend)", "width": 595, "height": 50, "data": {"name": "F"},
   "layer": [
    {"mark": "line", "encoding": {
      "x": {"field": "d", "type": "temporal", "scale": {"type": "utc", "domain": [{"year":1961,"month":11,"date":24,"utc":true},{"year":2024,"month":11,"date":25,"utc":true}]}, "axis": {"format": "%b%y", "title": "Sample Ending", "values": [{"year":1967,"month":1,"date":1,"utc":true},{"year":1972,"month":1,"date":1,"utc":true},{"year":1977,"month":1,"date":1,"utc":true},{"year":1982,"month":1,"date":1,"utc":true},{"year":1987,"month":1,"date":1,"utc":true},{"year":1992,"month":1,"date":1,"utc":true},{"year":1997,"month":1,"date":1,"utc":true},{"year":2002,"month":1,"date":1,"utc":true},{"year":2007,"month":1,"date":1,"utc":true},{"year":2012,"month":1,"date":1,"utc":true},{"year":2017,"month":1,"date":1,"utc":true},{"year":2022,"month":1,"date":1,"utc":true}]}},
      "y": {"field": "v", "type": "quantitative", "scale": {"domain": [-7.86, 6.66], "nice": false, "zero": false}, "axis": {"title": "z_(ADF,i)", "values": [4, 0, -4], "labelExpr": "replace(format(datum.value, 'd'), '\u2212', '-')"}}}},
    {"data": {"values": [{}]}, "mark": {"type": "rule", "color": "#FF0000", "strokeWidth": 1.6}, "encoding": {"y": {"datum": 1, "type": "quantitative", "axis": {"title": "z_(ADF,i)", "values": [4, 0, -4], "labelExpr": "replace(format(datum.value, 'd'), '\u2212', '-')"}}}}
   ]}
 ], "spacing": 22.4},
 {"hconcat": [
  {"title": {"text": "G: ADF stationarity of Log-Diff of Oil prices (Intercept and No Trend)", "fontSize": 19.6}, "width": 590.3, "height": 50, "data": {"name": "G"},
   "layer": [
    {"mark": "line", "encoding": {
      "x": {"field": "d", "type": "temporal", "scale": {"type": "utc", "domain": [{"year":1961,"month":11,"date":24,"utc":true},{"year":2024,"month":11,"date":25,"utc":true}]}, "axis": {"format": "%b%y", "title": "Sample Ending", "values": [{"year":1967,"month":1,"date":1,"utc":true},{"year":1972,"month":1,"date":1,"utc":true},{"year":1977,"month":1,"date":1,"utc":true},{"year":1982,"month":1,"date":1,"utc":true},{"year":1987,"month":1,"date":1,"utc":true},{"year":1992,"month":1,"date":1,"utc":true},{"year":1997,"month":1,"date":1,"utc":true},{"year":2002,"month":1,"date":1,"utc":true},{"year":2007,"month":1,"date":1,"utc":true},{"year":2012,"month":1,"date":1,"utc":true},{"year":2017,"month":1,"date":1,"utc":true},{"year":2022,"month":1,"date":1,"utc":true}]}},
      "y": {"field": "v", "type": "quantitative", "scale": {"domain": [-2.39, 8.29], "nice": false, "zero": false}, "axis": {"title": "z_(ADF,i)", "values": [7.5, 5, 2.5, 0], "labelExpr": "replace(format(datum.value, '.1f'), '\u2212', '-')"}}}},
    {"data": {"values": [{}]}, "mark": {"type": "rule", "color": "#FF0000", "strokeWidth": 1.6}, "encoding": {"y": {"datum": 1, "type": "quantitative", "axis": {"title": "z_(ADF,i)", "values": [7.5, 5, 2.5, 0], "labelExpr": "replace(format(datum.value, '.1f'), '\u2212', '-')"}}}}
   ]},
  {"title": "H: ADF stationarity of Log-Diff of Oil prices (Intercept and Trend)", "width": 599.6, "height": 50, "data": {"name": "H"},
   "layer": [
    {"mark": "line", "encoding": {
      "x": {"field": "d", "type": "temporal", "scale": {"type": "utc", "domain": [{"year":1961,"month":11,"date":24,"utc":true},{"year":2024,"month":11,"date":25,"utc":true}]}, "axis": {"format": "%b%y", "title": "Sample Ending", "values": [{"year":1967,"month":1,"date":1,"utc":true},{"year":1972,"month":1,"date":1,"utc":true},{"year":1977,"month":1,"date":1,"utc":true},{"year":1982,"month":1,"date":1,"utc":true},{"year":1987,"month":1,"date":1,"utc":true},{"year":1992,"month":1,"date":1,"utc":true},{"year":1997,"month":1,"date":1,"utc":true},{"year":2002,"month":1,"date":1,"utc":true},{"year":2007,"month":1,"date":1,"utc":true},{"year":2012,"month":1,"date":1,"utc":true},{"year":2017,"month":1,"date":1,"utc":true},{"year":2022,"month":1,"date":1,"utc":true}]}},
      "y": {"field": "v", "type": "quantitative", "scale": {"domain": [-2.0, 6.9], "nice": false, "zero": false}, "axis": {"title": "z_(ADF,i)", "values": [6, 4, 2, 0], "labelExpr": "replace(format(datum.value, 'd'), '\u2212', '-')"}}}},
    {"data": {"values": [{}]}, "mark": {"type": "rule", "color": "#FF0000", "strokeWidth": 1.6}, "encoding": {"y": {"datum": 1, "type": "quantitative", "axis": {"title": "z_(ADF,i)", "values": [6, 4, 2, 0], "labelExpr": "replace(format(datum.value, 'd'), '\u2212', '-')"}}}}
   ]}
 ], "spacing": 22.4}
],
"spacing": 16
}
